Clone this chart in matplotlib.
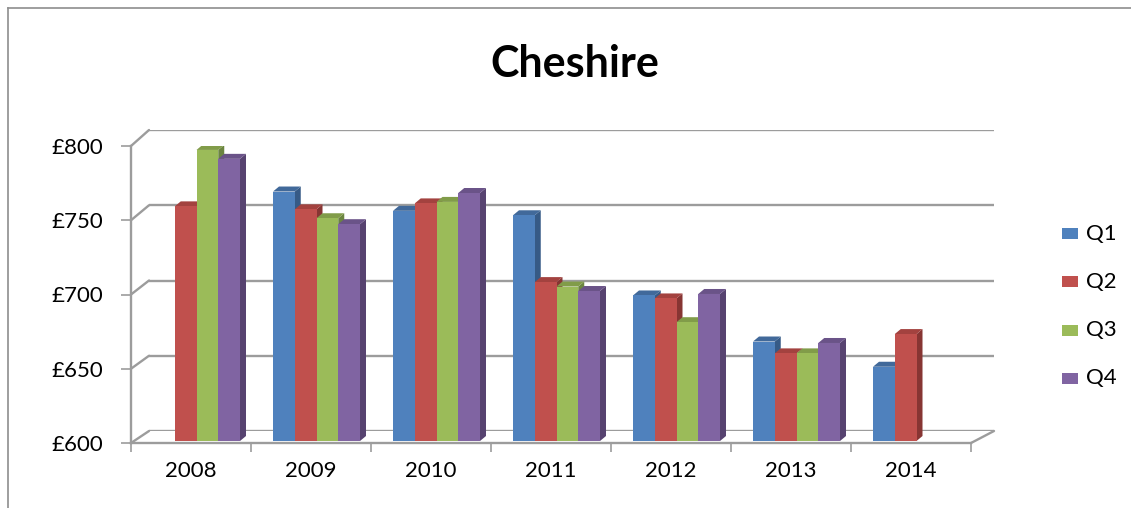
import numpy as np
import matplotlib
matplotlib.use('Agg')
import matplotlib.pyplot as plt
from matplotlib.patches import Polygon, Rectangle, ConnectionPatch
from matplotlib.lines import Line2D
from matplotlib.transforms import offset_copy

# data
years = ['2008', '2009', '2010', '2011', '2012', '2013', '2014']
series = ['Q1', 'Q2', 'Q3', 'Q4']
q1 = [np.nan, 768, 755, 752, 698, 667, 650]
q2 = [758, 756, 760, 707, 696, 659, 672]
q3 = [796, 750, 761, 704, 680, 659, np.nan]
q4 = [790, 746, 767, 701, 699, 666, np.nan]
yticks = [600, 650, 700, 750, 800]

front_cols = ['#4F81BD', '#C0504D', '#9BBB59', '#8064A2']
top_cols = ['#41699A', '#A3423F', '#819C49', '#6A5388']
side_cols = ['#365A86', '#873533', '#6B8540', '#574370']
grid_col = '#9C9C9C'

W, H = 1131, 508
fig = plt.figure(figsize=(W / 100, H / 100), dpi=100)
fig.set_facecolor('white')
plt.rcParams['font.family'] = ['Lato', 'DejaVu Sans']


def box(x0, y0, x1, y1):
    # pixel box (top-left origin) -> figure fraction rect
    return [x0 / W, 1 - y1 / H, (x1 - x0) / W, (y1 - y0) / H]


def fpt(x, y):
    return (x / W, 1 - y / H)


# back wall (gridlines) and front plane axes
ax_back = fig.add_axes(box(149, 130, 994, 431), zorder=0)
ax_back.set_xlim(0, 7)
ax_back.set_ylim(600, 800)
ax_back.axis('off')
ax_back.hlines(yticks, 0, 7, color=grid_col, lw=1.7)

ax = fig.add_axes(box(131, 146, 971, 443), zorder=1)
ax.set_facecolor('none')
ax.set_xlim(0, 7)
ax.set_ylim(600, 800)
for s in ['top', 'right']:
    ax.spines[s].set_visible(False)
for s in ['left', 'bottom']:
    ax.spines[s].set_color(grid_col)
    ax.spines[s].set_linewidth(1.7)

ax.set_yticks(yticks)
ax.set_yticklabels(['£%d' % v for v in yticks])
ax.tick_params(axis='y', direction='out', length=7, width=1.2, color=grid_col,
               labelsize=16, pad=13)
ax.set_xticks(range(8))
ax.set_xticklabels([])
ax.set_xticks(np.arange(7) + 0.5, minor=True)
ax.set_xticklabels(years, minor=True)
ax.tick_params(axis='x', which='major', direction='out', length=6.5, width=1.2, color=grid_col)
ax.tick_params(axis='x', which='minor', length=0, labelsize=16, pad=13)

# left wall and floor edges, front to back
for v in yticks:
    fig.add_artist(ConnectionPatch(xyA=(0, v), coordsA=ax.transData, xyB=(0, v),
                                   coordsB=ax_back.transData, color=grid_col, lw=1.7))
fig.add_artist(ConnectionPatch(xyA=(7, 600), coordsA=ax.transData, xyB=(7, 600),
                               coordsB=ax_back.transData, color=grid_col, lw=1.7))

# bars sit a little behind the front plane
tr = offset_copy(ax.transData, fig=fig, x=5.5, y=2, units='dots')
bb = ax.get_position()
px_x = bb.width * W / 7
px_y = bb.height * H / 200
ddx, ddy = 6 / px_x, 5 / px_y
w = 21.75 / px_x

data = [q1, q2, q3, q4]
for i in range(len(years)):
    for j in range(4):
        v = data[j][i]
        if np.isnan(v):
            continue
        xl = i + 0.5 + (j - 2) * w
        xr = xl + w
        side = Polygon([(xr, 600), (xr, v), (xr + ddx, v + ddy), (xr + ddx, 600 + ddy)],
                       closed=True, fc=side_cols[j], ec='none', transform=tr, zorder=2)
        top = Polygon([(xl, v), (xr, v), (xr + ddx, v + ddy), (xl + ddx, v + ddy)],
                      closed=True, fc=top_cols[j], ec='none', transform=tr, zorder=2)
        ax.add_patch(side)
        ax.add_patch(top)
        ax.bar(xl, v - 600, bottom=600, width=w, align='edge', color=front_cols[j],
               transform=tr, zorder=2)

# legend
for j, name in enumerate(series):
    yc = 233.5 + j * 48.3
    fig.add_artist(Rectangle(fpt(1062, yc + 5.5), 16 / W, 11 / H, transform=fig.transFigure,
                             fc=front_cols[j], ec='none'))
    fig.text(1086 / W, 1 - yc / H, name, fontsize=16, va='center', ha='left')

fig.text(575 / W, 1 - 64 / H, 'Cheshire', fontsize=31, fontweight='bold',
         ha='center', va='center')

# chart border
fig.add_artist(Line2D([8 / W, 8 / W], [0, 1 - 8 / H], transform=fig.transFigure,
                      color='#8E8E8E', lw=1.2))
fig.add_artist(Line2D([8 / W, 1], [1 - 8 / H, 1 - 8 / H], transform=fig.transFigure,
                      color='#8E8E8E', lw=1.2))

fig.savefig('out.png', dpi=100)
